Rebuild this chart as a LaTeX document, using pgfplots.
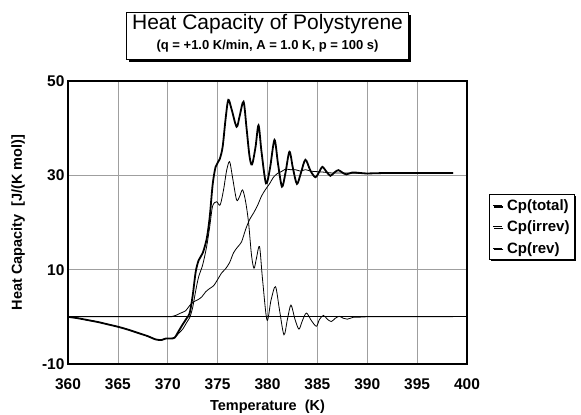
\documentclass[border=0pt]{standalone}
\usepackage{fontspec}
\setmainfont{Liberation Sans}
\usepackage{pgfplots}
\pgfplotsset{compat=1.18}
\usetikzlibrary{shadows}

\begin{document}
\begin{tikzpicture}[x=1pt,y=1pt]
\useasboundingbox (-68,-51) rectangle (513,364);

% title box
\node[draw, line width=1pt, fill=white, minimum width=282pt, minimum height=47pt,
      drop shadow={shadow xshift=2pt, shadow yshift=-2pt, opacity=1, fill=black}]
      at (199.5,327.5) {};
\node[anchor=base] at (199.5,334) {\fontsize{21}{21}\selectfont Heat Capacity of Polystyrene};
\node[anchor=base] at (199.5,314) {\bfseries\fontsize{13}{13}\selectfont (q = +1.0 K/min, A = 1.0 K, p = 100 s)};

\begin{axis}[
    at={(0,0)}, anchor=south west,
    scale only axis, width=399pt, height=283pt,
    xmin=360, xmax=400, ymin=-10, ymax=50,
    xtick={360,365,...,400}, ytick={-10,10,30,50},
    grid=major,
    major grid style={gray!75, line width=0.6pt},
    major tick length=0pt,
    axis line style={line width=1.8pt},
    ticklabel style={font=\bfseries\fontsize{15.5}{16}\selectfont},
    /pgf/number format/assume math mode=true,
    xticklabel style={yshift=-11pt},
    xlabel={Temperature\ \ (K)},
    ylabel={Heat Capacity\ \ [J/(K mol)]},
    label style={font=\bfseries\fontsize{14.5}{14.5}\selectfont},
    xlabel style={at={(axis description cs:0.5,-0.163)}, anchor=base},
    ylabel style={at={(axis description cs:-0.125,0.5)}, anchor=center},
    legend style={at={(axis description cs:1.055,0.6)}, anchor=north west,
        draw=black, line width=1pt, fill=white,
        font=\bfseries\fontsize{15}{15}\selectfont,
        row sep=5pt, inner sep=3pt,
        drop shadow={shadow xshift=1.5pt, shadow yshift=-1.5pt, opacity=1, fill=black}},
    legend cell align=left,
    legend image code/.code={\draw[line width=1.1pt] (0pt,0.4pt) -- (9pt,0.4pt);},
]

\addplot[black, line width=0.8pt, forget plot] coordinates {(360,0) (400,0)};

% Cp(total)
\addplot[black, line width=1.8pt, smooth, tension=0.5] coordinates {
(360,0) (361,-0.3) (362,-0.7) (363,-1.1) (364,-1.6) (365,-2.1) (366,-2.7)
(367,-3.4) (368,-4.1) (368.8,-4.8) (369.4,-4.9) (369.8,-4.6) (370.3,-4.6)
(370.7,-4.4) (371.1,-3.0) (371.5,-1.6) (371.9,-0.3) (372.2,0.8) (372.5,4.5)
(372.8,9.5) (373.1,12) (373.5,13.5) (373.9,16.5) (374.2,21) (374.5,28)
(374.8,31.8) (375.2,33.4) (375.5,36) (375.8,42) (376.07,46) (376.4,44)
(376.9,40.3) (377.2,42.5) (377.6,45.6) (377.9,40) (378.2,34) (378.45,32.3)
(378.8,36) (379.1,40.6) (379.4,35) (379.85,28.3) (380.25,31.5) (380.7,37.5)
(381.05,32.5) (381.45,27.6) (381.8,30.5) (382.2,35) (382.55,31.5) (382.95,28.2)
(383.35,30.5) (383.8,33.3) (384.3,31) (384.8,29.6) (385.2,30.8) (385.5,31.8)
(385.9,30.8) (386.3,29.9) (386.7,30.6) (387.1,31.1) (387.5,30.6) (387.9,30.2)
(388.5,30.6) (389.3,30.5) (390,30.4) (392,30.5) (395,30.5) (398.6,30.5)
};
\addlegendentry{\,Cp(total)}

% Cp(irrev)
\addplot[black, line width=0.8pt, smooth, tension=0.5] coordinates {
(360,0) (361,-0.3) (362,-0.7) (363,-1.1) (364,-1.6) (365,-2.1) (366,-2.7)
(367,-3.4) (368,-4.1) (368.8,-4.8) (369.4,-4.9) (369.8,-4.6) (370.3,-4.6)
(370.7,-4.4) (371.1,-3.5) (371.5,-2.6) (371.9,-1.2) (372.2,-0.2) (372.5,2)
(372.8,5.5) (373.1,8.5) (373.5,11) (373.9,14.9) (374.2,19) (374.5,23.5)
(374.9,24.4) (375.25,23.7) (375.6,27) (375.9,31) (376.2,32.9) (376.5,29.5)
(376.9,24.8) (377.2,25.5) (377.5,26.9) (377.8,24.5) (378.1,20) (378.4,13)
(378.65,10.3) (378.9,12.5) (379.2,14.9) (379.5,8) (379.95,-0.7) (380.35,3.5)
(380.8,6.4) (381.2,1.5) (381.65,-3.8) (382,-0.5) (382.35,2.5) (382.75,-0.5)
(383.15,-2.6) (383.5,-0.8) (383.9,0.8) (384.4,-0.8) (384.9,-2.0) (385.2,-0.6)
(385.6,0.3) (386,-0.5) (386.4,-1.0) (386.8,-0.3) (387.2,0.1) (387.6,-0.3)
(388,-0.5) (388.6,-0.1) (389.3,-0.1) (390,0) (398.6,0)
};
\addlegendentry{\,Cp(irrev)}

% Cp(rev)
\addplot[black, line width=0.8pt, smooth, tension=0.45] coordinates {
(360,0) (369.5,0) (370.3,0.05) (370.8,0.3) (371.3,0.8) (371.8,1.3) (372.2,2.4)
(372.6,3.2) (373.0,3.6) (373.4,4.2) (373.8,5.3) (374.2,6.0) (374.6,6.6)
(375.0,7.9) (375.4,9.3) (375.8,10.2) (376.2,11.5) (376.6,13.6) (377.0,14.8)
(377.4,15.9) (377.8,18.5) (378.2,20.6) (378.6,22.0) (379.0,23.6) (379.4,25.6)
(379.8,27.0) (380.2,28.2) (380.6,29.6) (381.0,30.4) (381.4,30.8) (381.8,31.3)
(382.3,31.2) (382.8,31.2) (383.3,30.9) (383.8,31.2) (384.3,30.9) (384.8,30.8)
(385.5,30.7) (386.5,30.5) (388,30.5) (390,30.4) (398.6,30.5)
};
\addlegendentry{\,Cp(rev)}

\end{axis}
\end{tikzpicture}
\end{document}
